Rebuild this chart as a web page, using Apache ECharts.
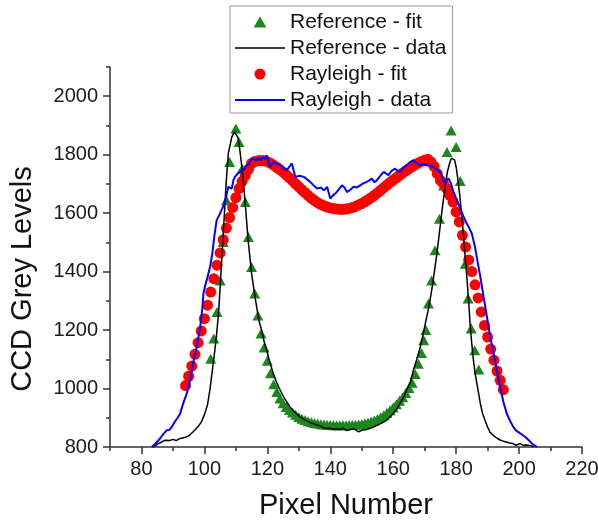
<!DOCTYPE html>
<html>
<head>
<meta charset="utf-8">
<script src="https://cdn.jsdelivr.net/npm/echarts@6/dist/echarts.min.js"></script>
<style>
html,body{margin:0;padding:0;background:#fff;}
#chart{width:598px;height:523px;}
</style>
</head>
<body>
<div id="chart"></div>
<script>
// ---- tick labels ----
var xTicks = [80, 100, 120, 140, 160, 180, 200, 220];
var xMinorTicks = [70, 90, 110, 130, 150, 170, 190, 210];
var yTicks = [800, 1000, 1200, 1400, 1600, 1800, 2000];
var yMinorTicks = [900, 1100, 1300, 1500, 1700, 1900, 2100];

var seriesNames = ['Reference - fit', 'Reference - data', 'Rayleigh - fit', 'Rayleigh - data'];

// ---- Reference - fit (green triangles) ----
var refFit = [
  [102,1102],[103,1171],[104,1262],[105,1370],[106,1501],[107,1644],[108,1775],[110,1890],
  [111,1843],[112,1752],[113,1638],[114,1518],[115,1416],[116,1325],[117,1250],[118,1188],
  [119,1140],[120,1095],[121,1052],[122,1015],[123,988],[124,966],[125,950],[126,937],
  [127,927],[128,918],[129,910],[130,903],[131,897],[132,892],[133,888],[134,885],[135,882],
  [136,880],[137,878],[138,877],[139,876],[140,875],[141,874],[142,874],[143,874],[144,874],
  [145,874],[146,875],[147,875],[148,876],[149,877],[150,879],[151,881],[152,884],[153,887],
  [154,891],[155,896],[156,902],[157,909],[158,917],[159,926],[160,935],[161,946],[162,958],
  [163,970],[164,985],[165,1002],[166,1020],[167,1050],[168,1085],[169,1122],[169.7,1165],
  [170.4,1200],[171.2,1291],[172.2,1370],[173.3,1473],[174.7,1581],[176,1695],[177.1,1809],
  [178.4,1883],[180,1826],[181.3,1710],[182.9,1427],[183.8,1308],[184.8,1205],[185.9,1131],
  [187.2,1065]
];

// ---- Reference - data (black line) ----
var refData = [
  [83.5,800],[84.5,805],[85.5,812],[86.5,818],[87.5,823],[88,829],[89,822],[90,826],[91,822],
  [92,828],[93,831],[94,833],[95,838],[96,848],[97,858],[98,870],[99,885],[100,910],[101,945],
  [101.8,1000],[102.5,1060],[103.2,1120],[103.9,1188],[104.5,1260],[105,1347],[106,1530],
  [106.9,1701],[107.6,1804],[108.7,1860],[109.5,1878],[110.1,1875],[110.6,1860],[111.1,1830],
  [111.9,1758],[112.9,1644],[113.9,1507],[115,1393],[116,1320],[116.6,1279],[117.4,1230],
  [118.2,1199],[119,1160],[119.8,1131],[120.8,1090],[121.9,1051],[123,1020],[124.1,994],
  [125.5,965],[127.2,937],[128.8,918],[130.4,903],[132,893],[133.6,884],[135.2,878],
  [136.8,872],[137.8,866],[138.9,863],[140,864],[141,861],[142,862],[142.6,857],[143.4,861],
  [144.2,864],[145.3,856],[146.3,860],[147.4,863],[148.2,858],[149,852],[150,857],[150.5,863],
  [151.5,860],[152.7,864],[153.7,868],[154.8,874],[156,880],[157,886],[158,893],[159,903],
  [160,915],[161.2,931],[162.2,950],[163.3,971],[164.3,995],[165.4,1020],[166.4,1062],
  [167.5,1100],[168.6,1142],[169.4,1180],[170.2,1222],[171,1262],[171.7,1302],[172.5,1355],
  [173.3,1416],[174.1,1480],[174.9,1553],[175.7,1625],[176.5,1690],[177.2,1740],[177.9,1770],
  [178.5,1788],[179,1792],[179.5,1782],[180,1758],[180.5,1720],[181.1,1667],[181.7,1600],
  [182.3,1530],[182.8,1460],[183.4,1382],[184,1295],[184.5,1211],[185,1150],[185.5,1097],
  [186,1055],[186.6,1017],[187.2,980],[187.7,948],[188.4,915],[189.2,891],[190,868],
  [190.8,850],[192,838],[193,830],[194,824],[195,820],[196,817],[197,814],[198,812],[199,806],
  [199.6,804],[200.4,812],[201.2,806],[202,807],[203,806],[204,804],[204.6,800]
];

// ---- Rayleigh - fit (red circles) ----
var rayFit = [
  [94,1010],[95,1042],[96,1077],[97,1117],[98,1157],[99,1197],[100,1239],[101,1285],[102,1330],
  [103,1376],[104,1422],[105,1464],[106,1509],[107,1549],[108,1585],[109,1619],[110,1653],
  [111,1684],[112,1709],[113,1729],[114,1750],[115,1770],[116,1777],[117,1779],[118,1780],
  [119,1779],[120,1776],[121,1771],[122,1764],[123,1757],[124,1749],[125,1740],[126,1731],
  [127,1721],[128,1711],[129,1700],[130,1690],[131,1680],[132,1670],[133,1660],[134,1651],
  [135,1643],[136,1636],[137,1630],[138,1625],[139,1621],[140,1618],[141,1616],[142,1614],
  [143,1613],[144,1613],[145,1614],[146,1616],[147,1619],[148,1623],[149,1628],[150,1633],
  [151,1639],[152,1646],[153,1653],[154,1661],[155,1669],[156,1678],[157,1687],[158,1696],
  [159,1705],[160,1713],[161,1721],[162,1729],[163,1737],[164,1745],[165,1752],[166,1759],
  [167,1766],[168,1772],[169,1777],[170,1781],[171,1784],[172,1775],[173,1760],[174,1735],
  [175,1712],[176,1700],[177,1684],[178,1661],[179,1638],[180,1604],[181,1570],[182,1524],
  [183,1484],[184,1440],[185,1400],[186,1355],[187,1310],[188,1262],[189,1216],[190,1176],
  [191,1135],[192,1097],[193,1060],[194,1028],[195,996]
];

// ---- Rayleigh - data (blue line) ----
var rayData = [
  [83.3,800],[84.5,812],[85.9,829],[87,845],[88,857],[88.8,858],[89.6,868],[90.5,885],
  [91.5,900],[92.3,915],[93.3,950],[94.4,983],[95.5,1030],[96.5,1090],[97.5,1140],[98.6,1205],
  [99.3,1270],[99.7,1325],[100.2,1350],[100.7,1370],[101.8,1416],[102.5,1460],[103.2,1525],
  [103.9,1576],[104.8,1595],[105.5,1612],[106.6,1638],[107.1,1667],[107.6,1690],[108.2,1695],
  [108.7,1684],[109.2,1712],[109.7,1724],[110.3,1720],[111,1740],[111.5,1738],[112.4,1747],
  [113,1752],[113.5,1764],[114.3,1770],[115.1,1787],[115.6,1781],[116.6,1781],[117.2,1790],
  [117.7,1781],[118.7,1792],[119.2,1785],[119.8,1798],[120.3,1796],[120.9,1758],[121.9,1775],
  [123,1770],[124.1,1764],[125.2,1755],[126.2,1747],[127.2,1762],[127.8,1770],[128.9,1724],
  [130.2,1728],[131.6,1724],[132.6,1716],[133.6,1707],[134.7,1695],[135.8,1684],[137,1688],
  [138,1678],[139,1690],[140,1650],[140.8,1660],[141.6,1667],[142.6,1680],[143.7,1695],
  [144.5,1688],[145.3,1672],[146.4,1680],[147.4,1690],[148.5,1688],[149.5,1695],[150.5,1702],
  [151.6,1707],[152.4,1712],[153.2,1718],[154,1706],[154.8,1712],[155.9,1728],[157,1741],
  [157.8,1735],[158.5,1730],[159.5,1745],[160.6,1752],[161.4,1745],[162.2,1741],[163.2,1755],
  [164.3,1764],[165.4,1775],[166.4,1781],[167.5,1770],[168.6,1764],[169.6,1768],[170.7,1764],
  [171.8,1762],[172.8,1758],[173.8,1750],[174.9,1741],[175.4,1730],[176,1707],[176.8,1712],
  [177.6,1718],[178.4,1700],[179.2,1672],[180.2,1645],[181.3,1616],[182.3,1590],[183.4,1564],
  [184.2,1548],[185,1530],[186,1484],[186.8,1435],[187.7,1382],[188.7,1315],[189.8,1245],
  [190.8,1180],[191.9,1120],[193,1060],[194,1005],[195,955],[196.1,914],[197.2,888],
  [198.2,868],[199,857],[199.8,851],[201,842],[202,834],[203,824],[204.1,812],[205,805],
  [205.7,800]
];

var FONT = '"Liberation Sans", Arial, sans-serif';
var AXIS_COLOR = '#333';
function plain(v) { return String(v); }

var chart = echarts.init(document.getElementById('chart'), null, {renderer: 'canvas'});

function majorX() {
  return {
    type: 'value', gridIndex: 0, position: 'bottom', min: 70, max: 220,
    axisLine: {show: true, onZero: false, lineStyle: {color: AXIS_COLOR, width: 1.5}},
    axisTick: {show: true, customValues: xTicks, length: 7, inside: false, lineStyle: {color: AXIS_COLOR, width: 1.5}},
    axisLabel: {show: true, customValues: xTicks, formatter: plain, margin: 12, fontSize: 20, fontFamily: FONT, color: '#1a1a1a'},
    splitLine: {show: false},
    name: 'Pixel Number', nameLocation: 'middle', nameGap: 44,
    nameTextStyle: {fontSize: 29, fontFamily: FONT, color: '#111'}
  };
}
function minorX() {
  return {
    type: 'value', gridIndex: 0, position: 'bottom', min: 70, max: 220,
    axisLine: {show: false, onZero: false},
    axisTick: {show: true, customValues: xMinorTicks, length: 4, inside: false, lineStyle: {color: AXIS_COLOR, width: 1.5}},
    axisLabel: {show: false},
    splitLine: {show: false}
  };
}
function majorY() {
  return {
    type: 'value', gridIndex: 0, position: 'left', min: 800, max: 2100,
    axisLine: {show: true, onZero: false, lineStyle: {color: AXIS_COLOR, width: 1.5}},
    axisTick: {show: true, customValues: yTicks, length: 7, inside: false, lineStyle: {color: AXIS_COLOR, width: 1.5}},
    axisLabel: {show: true, customValues: yTicks, formatter: plain, margin: 12, fontSize: 20, fontFamily: FONT, color: '#1a1a1a'},
    splitLine: {show: false}
  };
}
function minorY() {
  return {
    type: 'value', gridIndex: 0, position: 'left', min: 800, max: 2100,
    axisLine: {show: false, onZero: false},
    axisTick: {show: true, customValues: yMinorTicks, length: 4, inside: false, lineStyle: {color: AXIS_COLOR, width: 1.5}},
    axisLabel: {show: false},
    splitLine: {show: false}
  };
}

var option = {
  backgroundColor: '#ffffff',
  animation: false,
  grid: {left: 110, right: 16, top: 67, bottom: 76, containLabel: false, outerBoundsMode: 'none'},
  xAxis: [majorX(), minorX()],
  yAxis: [majorY(), minorY()],
  legend: {
    orient: 'vertical', left: 230, top: 6,
    padding: [5, 6, 2, 5],
    itemWidth: 50, itemHeight: 11, itemGap: 4,
    borderColor: '#999', borderWidth: 1, backgroundColor: '#fff',
    symbolKeepAspect: true,
    selectedMode: false,
    textStyle: {fontSize: 21, fontFamily: FONT, color: '#111', lineHeight: 22},
    data: [
      {name: seriesNames[0], icon: 'path://M0,-10L11,9L-11,9Z'},
      {name: seriesNames[1], icon: 'path://M0,0L100,0L100,3L0,3Z'},
      {name: seriesNames[2], icon: 'circle'},
      {name: seriesNames[3], icon: 'path://M0,0L100,0L100,4L0,4Z'}
    ]
  },
  graphic: [{
    type: 'text', x: 23, y: 279, rotation: Math.PI / 2, silent: true,
    style: {text: 'CCD Grey Levels', font: '29px "Liberation Sans", Arial, sans-serif', fill: '#111',
            textAlign: 'center', textVerticalAlign: 'middle'}
  }],
  series: [
    {
      name: seriesNames[0], type: 'scatter', xAxisIndex: 0, yAxisIndex: 0,
      symbol: 'triangle', symbolSize: [11, 10], silent: true,
      itemStyle: {color: '#1d861d', opacity: 1},
      data: refFit
    },
    {
      name: seriesNames[1], type: 'line', xAxisIndex: 0, yAxisIndex: 0,
      symbol: 'none', showSymbol: false, silent: true,
      lineStyle: {color: '#000', width: 1.5}, itemStyle: {color: '#000'},
      data: refData
    },
    {
      name: seriesNames[2], type: 'scatter', xAxisIndex: 0, yAxisIndex: 0,
      symbol: 'circle', symbolSize: 11, silent: true,
      itemStyle: {color: '#ff0000', opacity: 1},
      data: rayFit
    },
    {
      name: seriesNames[3], type: 'line', xAxisIndex: 0, yAxisIndex: 0,
      symbol: 'none', showSymbol: false, silent: true,
      lineStyle: {color: '#0000ff', width: 2}, itemStyle: {color: '#0000ff'},
      data: rayData
    }
  ]
};
chart.setOption(option);
</script>
</body>
</html>
